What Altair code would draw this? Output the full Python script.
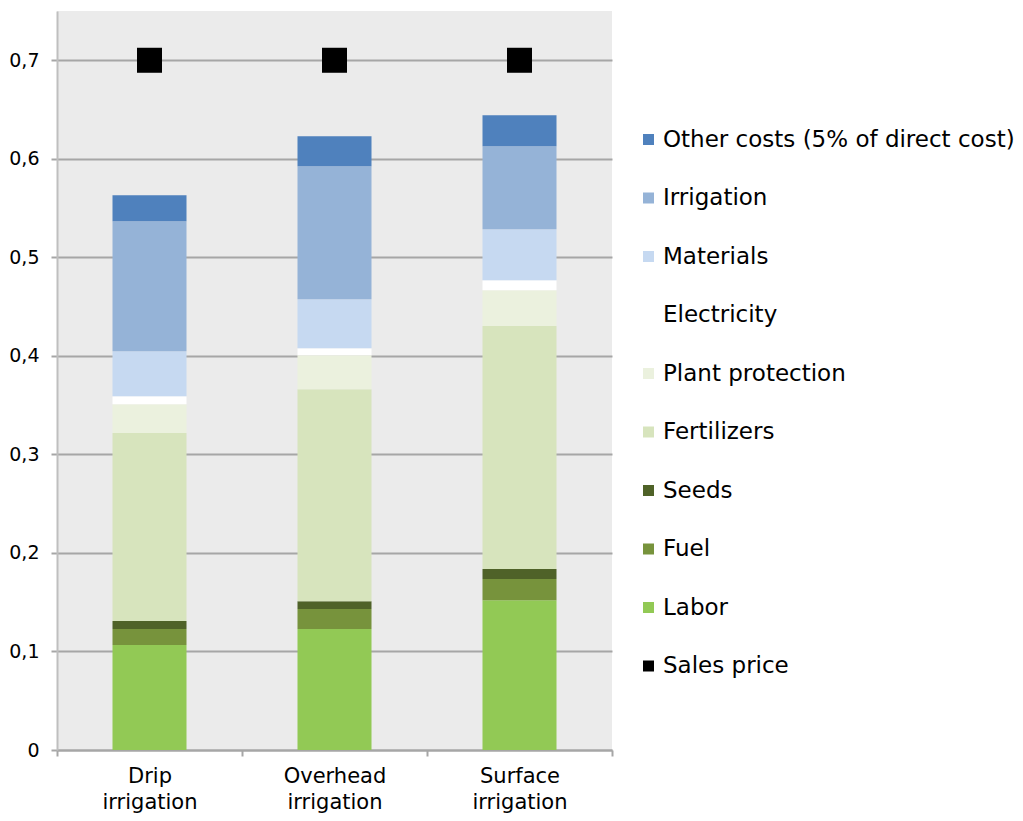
import altair as alt
import pandas as pd

methods = ["Drip irrigation", "Overhead irrigation", "Surface irrigation"]
# stacked from bottom to top
categories = ["Labor", "Fuel", "Seeds", "Fertilizers", "Plant protection",
              "Electricity", "Materials", "Irrigation", "Other costs (5% of direct cost)"]
colors = ["#92C955", "#77933C", "#4F6228", "#D7E4BD", "#EBF1DE",
          "#FFFFFF", "#C6D9F1", "#95B3D7", "#4F81BD"]
drip = [0.1065, 0.0163, 0.0081, 0.1907, 0.0294, 0.0080, 0.0458, 0.1319, 0.0263]
overhead = [0.1228, 0.0202, 0.0080, 0.2152, 0.0345, 0.0071, 0.0497, 0.1350, 0.0304]
surface = [0.1520, 0.0215, 0.0101, 0.2466, 0.0365, 0.0101, 0.0518, 0.0842, 0.0314]
sales_price = [0.70, 0.70, 0.70]

rows = []
for m, vals in zip(methods, [drip, overhead, surface]):
    for i, (c, v) in enumerate(zip(categories, vals)):
        rows.append({"method": m, "category": c, "value": v, "ord": i})
bars_df = pd.DataFrame(rows)
price_df = pd.DataFrame({"method": methods, "category": "Sales price", "value": sales_price})

legend_domain = list(reversed(categories)) + ["Sales price"]
legend_range = list(reversed(colors)) + ["#000000"]

font = "DejaVu Sans"

color_scale = alt.Scale(domain=legend_domain, range=legend_range)
color_legend = alt.Legend(
    title=None, orient="none", legendX=580, legendY=117, padding=0,
    symbolType="square", symbolSize=121, symbolStrokeWidth=0,
    labelFont=font, labelFontSize=23, labelColor="#000000",
    labelOffset=3, rowPadding=34.5, labelLimit=500,
)

x_enc = alt.X("method:N", sort=methods, title=None,
              scale=alt.Scale(paddingInner=0, paddingOuter=0),
              axis=alt.Axis(labelAngle=0, labelExpr="split(datum.label, ' ')",
                            labelFont=font, labelFontSize=21, labelColor="#000000",
                            labelLineHeight=26, labelPadding=9,
                            tickBand="extent", tickSize=6, tickColor="#A6A6A6",
                            domainColor="#A6A6A6", domainWidth=2, tickWidth=2,
                            grid=False))

bars = alt.Chart(bars_df).mark_bar(size=74).encode(
    x=x_enc,
    y=alt.Y("value:Q", stack="zero", title=None,
            scale=alt.Scale(domain=[0, 0.75], nice=False),
            axis=alt.Axis(values=[0, 0.1, 0.2, 0.3, 0.4, 0.5, 0.6, 0.7],
                          labelExpr="datum.value == 0 ? '0' : replace(format(datum.value, '.1f'), '.', ',')",
                          labelFont=font, labelFontSize=19, labelColor="#000000",
                          labelPadding=12, tickSize=6, tickColor="#A6A6A6", tickWidth=2,
                          domainColor="#BFBFBF", domainWidth=2,
                          grid=True, gridColor="#A6A6A6", gridWidth=2)),
    color=alt.Color("category:N", scale=color_scale, legend=color_legend),
    order=alt.Order("ord:Q", sort="ascending"),
)

points = alt.Chart(price_df).mark_square(size=625, opacity=1).encode(
    x=alt.X("method:N", sort=methods),
    y=alt.Y("value:Q"),
    color=alt.Color("category:N", scale=color_scale, legend=color_legend),
)

chart = alt.layer(bars, points).properties(
    width=555, height=739,
    autosize=alt.AutoSizeParams(type="none"),
    padding={"left": 49, "top": 3, "right": 402, "bottom": 63},
).configure_view(
    fill="#EBEBEB", stroke=None,
)

chart.save("out.html", embed_options={"renderer": "svg", "actions": False})
